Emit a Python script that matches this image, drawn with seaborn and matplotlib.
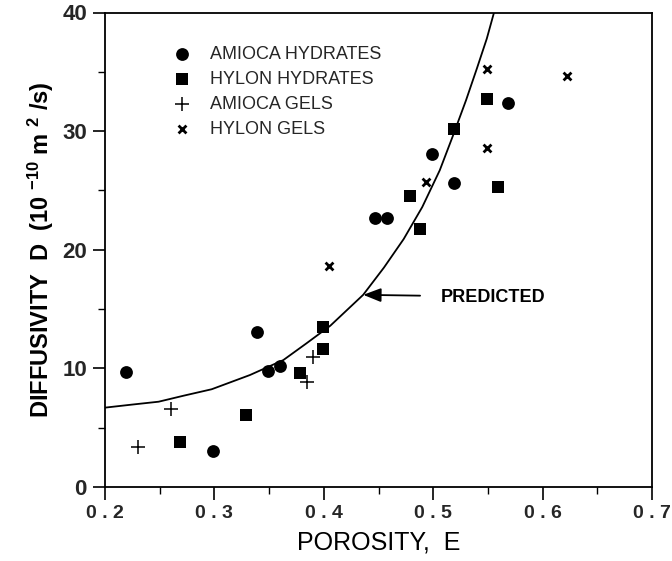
import numpy as np
import pandas as pd
import matplotlib
matplotlib.use("Agg")
import matplotlib.pyplot as plt
import seaborn as sns

# ---- data ----
amioca_hyd_x = [0.219, 0.299, 0.339, 0.349, 0.360, 0.447, 0.458, 0.499, 0.519, 0.568]
amioca_hyd_y = [9.72, 3.04, 13.1, 9.78, 10.23, 22.66, 22.66, 28.05, 25.66, 32.4]
hylon_hyd_x = [0.269, 0.329, 0.378, 0.3995, 0.3995, 0.479, 0.488, 0.519, 0.549, 0.5595]
hylon_hyd_y = [3.82, 6.07, 9.59, 11.64, 13.47, 24.54, 21.73, 30.16, 32.69, 25.32]
amioca_gel_x = [0.230, 0.260, 0.385, 0.390]
amioca_gel_y = [3.35, 6.55, 8.88, 10.99]
hylon_gel_x = [0.405, 0.493, 0.549, 0.549, 0.622]
hylon_gel_y = [18.66, 25.69, 28.56, 35.24, 34.65]
pred_x = [0.200, 0.225, 0.249, 0.272, 0.2975, 0.3325, 0.363, 0.384, 0.406, 0.436,
          0.455, 0.473, 0.490, 0.506, 0.518, 0.530, 0.540, 0.549, 0.5556]
pred_y = [6.69, 6.95, 7.19, 7.7, 8.24, 9.44, 10.7, 12.1, 13.6, 16.2,
          18.5, 20.9, 23.6, 26.7, 29.6, 32.6, 35.3, 37.8, 40.0]

series_labels = ["AMIOCA HYDRATES", "HYLON HYDRATES", "AMIOCA GELS", "HYLON GELS"]
x_ticks = [0.2, 0.3, 0.4, 0.5, 0.6, 0.7]
x_tick_labels = ["0 . 2", "0 . 3", "0 . 4", "0 . 5", "0 . 6", "0 . 7"]
y_ticks = [0, 10, 20, 30, 40]
y_tick_labels = ["0", "10", "20", "30", "40"]

sns.set_theme(style="ticks")
plt.rcParams["font.family"] = ["Liberation Sans", "DejaVu Sans"]
plt.rcParams["mathtext.default"] = "regular"

fig = plt.figure(figsize=(6.72, 5.61), dpi=100)
ax = fig.add_axes([105 / 672, 1 - 487 / 561, (652 - 105) / 672, (487 - 12.5) / 561])

sns.lineplot(x=pred_x, y=pred_y, color="black", linewidth=1.3, ax=ax, sort=False,
             estimator=None, legend=False)

sns.scatterplot(x=amioca_hyd_x, y=amioca_hyd_y, marker="o", s=85, color="black",
                edgecolor="black", linewidth=0, label=series_labels[0], ax=ax, zorder=3)
sns.scatterplot(x=hylon_hyd_x, y=hylon_hyd_y, marker="s", s=75, color="black",
                edgecolor="black", linewidth=0, label=series_labels[1], ax=ax, zorder=3)
sns.scatterplot(x=amioca_gel_x, y=amioca_gel_y, marker="+", s=90, color="black",
                linewidth=1.1, label=series_labels[2], ax=ax, zorder=3)
sns.scatterplot(x=hylon_gel_x, y=hylon_gel_y, marker="x", s=32, color="black",
                linewidth=2.0, label=series_labels[3], ax=ax, zorder=3)

ax.set_xlim(0.2, 0.7)
ax.set_ylim(0, 40)
ax.set_xticks(x_ticks)
ax.set_xticklabels(x_tick_labels, fontsize=14, fontweight="bold")
ax.set_xticks(np.arange(0.25, 0.7, 0.1), minor=True)
ax.set_yticks(y_ticks)
ax.set_yticklabels(y_tick_labels, fontsize=16, fontweight="bold")
ax.set_yticks([5, 15, 25, 35], minor=True)
ax.tick_params(which="major", direction="out", length=9, width=1.2, color="black",
               top=False, right=False, pad=4)
ax.tick_params(which="minor", direction="out", length=5, width=1.0, color="black",
               top=False, right=False)
for sp in ax.spines.values():
    sp.set_visible(True)
    sp.set_color("black")
    sp.set_linewidth(1.3)

ax.set_xlabel("POROSITY,  E", fontsize=18, fontweight="normal", color="black", labelpad=6)
ax.set_ylabel(r"DIFFUSIVITY  D  (10 $^{-10}$ m $^{2}$ /s)", fontsize=17,
              fontweight="bold", color="black")
ax.yaxis.set_label_coords(-0.09, 0.5)

ax.annotate("", xy=(0.436, 16.2), xytext=(0.488, 16.13),
            arrowprops=dict(arrowstyle="-|>,head_length=0.9,head_width=0.35",
                            color="black", lw=1.3, shrinkA=0, shrinkB=0))
ax.text(0.507, 16.0, "PREDICTED", fontsize=13, fontweight="bold", va="center",
        ha="left", color="black")

leg = ax.legend(frameon=False, loc="upper left", bbox_to_anchor=(0.124, 0.93),
                borderpad=0, handlelength=1.0, handletextpad=1.07, labelspacing=0.45,
                fontsize=13, borderaxespad=0)

fig.savefig("out.png", dpi=100, facecolor="white")
